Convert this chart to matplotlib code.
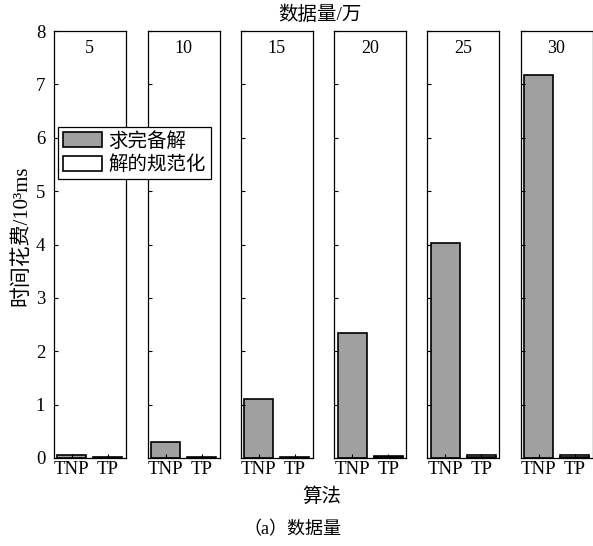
import matplotlib.pyplot as plt
from matplotlib.patches import Patch

plt.rcParams['font.family'] = ['Liberation Serif', 'Noto Sans CJK SC']

# data sizes (10k records) and running time (10^3 ms)
sizes = ["5", "10", "15", "20", "25", "30"]
algos = ["TNP", "TP"]
tnp_solve = [0.05, 0.30, 1.10, 2.34, 4.02, 7.17]
tp_solve = [0.005, 0.005, 0.005, 0.01, 0.01, 0.01]
tp_norm = [0.008, 0.015, 0.02, 0.025, 0.04, 0.04]

gray = "#a0a0a0"

fig = plt.figure(figsize=(5.93, 5.46), dpi=100)
W, H = 593, 546
lefts = [53.5, 147.5, 240.7, 334.3, 427.3, 520.5]
pw = 72
top_px, bot_px = 31, 458

for i, s in enumerate(sizes):
    ax = fig.add_axes([lefts[i] / W, 1 - bot_px / H, pw / W, (bot_px - top_px) / H])
    ax.bar([1], [tnp_solve[i]], width=0.8, color=gray, edgecolor="black", linewidth=1.2)
    ax.bar([2], [tp_solve[i]], width=0.8, color=gray, edgecolor="black", linewidth=1.2)
    ax.bar([2], [tp_norm[i]], bottom=[tp_solve[i]], width=0.8, color="white",
           edgecolor="black", linewidth=1.2)
    ax.set_xlim(0.5, 2.5)
    ax.set_ylim(0, 8)
    ax.set_xticks([1, 2])
    ax.set_xticklabels(algos, fontsize=13.5)
    ax.set_yticks(range(9))
    ax.tick_params(direction="in", length=3, width=0.8, pad=2)
    if i > 0:
        ax.set_yticklabels([])
    else:
        ax.tick_params(axis="y", labelsize=13.5, pad=6)
    for sp in ax.spines.values():
        sp.set_linewidth(0.9)
    ax.text(0.5, 0.98, s, transform=ax.transAxes, ha="center", va="top", fontsize=13)

fig.text(320 / W, 1 - 15 / H, "数据量/万", ha="center", va="center", fontsize=14)
fig.text(322 / W, 1 - 497 / H, "算法", ha="center", va="center", fontsize=14)
fig.text(292 / W, 1 - 530 / H, "（a）数据量", ha="center", va="center", fontsize=13)
fig.text(22 / W, 1 - 236 / H, "时间花费/10³ms", ha="center", va="center",
         rotation=90, fontsize=15)

handles = [Patch(facecolor=gray, edgecolor="black", linewidth=1.2),
           Patch(facecolor="white", edgecolor="black", linewidth=1.2)]
leg = fig.legend(handles, ["求完备解", "解的规范化"], loc="upper left",
                 bbox_to_anchor=(58 / W, 1 - 127 / H), fontsize=14,
                 fancybox=False, framealpha=1, edgecolor="black",
                 handlelength=2.0, handleheight=0.8, borderpad=0.25,
                 labelspacing=0.25, handletextpad=0.35, borderaxespad=0)
leg.get_frame().set_linewidth(0.9)
leg.set_zorder(10)

fig.savefig("out.png", dpi=100)
